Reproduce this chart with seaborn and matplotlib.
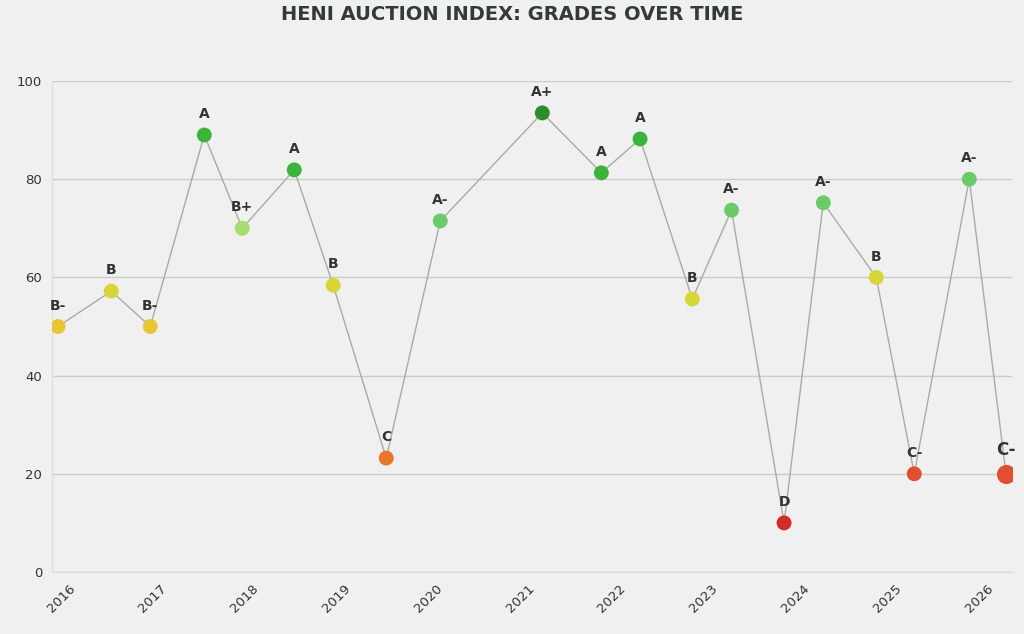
import matplotlib
matplotlib.use("Agg")
import matplotlib.pyplot as plt
import matplotlib.dates as mdates
import pandas as pd
import seaborn as sns

# valeurs
dates = ["2015-11-21", "2016-06-20", "2016-11-22", "2017-06-25", "2017-11-23",
         "2018-06-18", "2018-11-20", "2019-06-19", "2020-01-20", "2021-03-01",
         "2021-10-22", "2022-03-25", "2022-10-19", "2023-03-24", "2023-10-19",
         "2024-03-23", "2024-10-20", "2025-03-20", "2025-10-25", "2026-03-20"]
scores = [50, 57.2, 50, 89, 70, 81.9, 58.4, 23.2, 71.5, 93.5,
          81.3, 88.2, 55.6, 73.7, 10, 75.2, 60, 20, 80, 20]
grades = ["B-", "B", "B-", "A", "B+", "A", "B", "C", "A-", "A+",
          "A", "A", "B", "A-", "D", "A-", "B", "C-", "A-", "C-"]

grade_colors = {
    "A+": "#2e8b2e", "A": "#3cb43c", "A-": "#6acb6a", "B+": "#a8dc6c",
    "B": "#d6d636", "B-": "#e8c632", "C": "#ea762c", "C-": "#e0502e",
    "D": "#d42a2a",
}

df = pd.DataFrame({"date": pd.to_datetime(dates), "score": scores, "grade": grades})
df["latest"] = df.index == len(df) - 1

BG = "#f0f0f0"
TXT = "#333333"

sns.set_style("whitegrid", {"axes.facecolor": BG, "figure.facecolor": BG,
                            "grid.color": "#cccccc", "axes.edgecolor": "#dddddd"})

fig = plt.figure(figsize=(10.24, 6.34), dpi=100)
ax = fig.add_axes([52 / 1024, 62 / 634, 960 / 1024, 491 / 634])

sns.lineplot(data=df, x="date", y="score", color="#aaaaaa", lw=1, ax=ax, zorder=2)
sns.scatterplot(data=df[~df.latest], x="date", y="score", hue="grade",
                palette=grade_colors, s=115, linewidth=0, legend=False, ax=ax, zorder=3)
sns.scatterplot(data=df[df.latest], x="date", y="score", hue="grade",
                palette=grade_colors, s=190, linewidth=0, legend=False, ax=ax, zorder=3)

for _, r in df.iterrows():
    ax.annotate(r.grade, (r.date, r.score), xytext=(0, 11 if r.latest else 10),
                textcoords="offset points", ha="center", va="bottom",
                fontsize=12 if r.latest else 10, fontweight="bold", color=TXT)

ax.set_ylim(0, 100)
ax.set_xlim(pd.Timestamp("2015-10-28"), pd.Timestamp("2026-04-13"))
ax.xaxis.set_major_locator(mdates.YearLocator())
ax.xaxis.set_major_formatter(mdates.DateFormatter("%Y"))
ax.set_yticks([0, 20, 40, 60, 80, 100])
ax.grid(axis="x", visible=False)
ax.grid(axis="y", lw=1)
ax.set_xlabel("")
ax.set_ylabel("")
for s in ["top", "right"]:
    ax.spines[s].set_visible(False)
ax.tick_params(axis="both", colors="#dddddd", labelcolor=TXT, labelsize=9.5,
               length=5, width=1, pad=2)
ax.tick_params(axis="x", rotation=45)
for lab in ax.get_xticklabels():
    lab.set_ha("right")
    lab.set_rotation_mode("anchor")

fig.text(512 / 1024, 1 - 15 / 634, "HENI AUCTION INDEX: GRADES OVER TIME",
         ha="center", va="center", fontsize=14, fontweight="bold", color="#333a3a")

fig.savefig("out.png", dpi=100, facecolor=BG)
